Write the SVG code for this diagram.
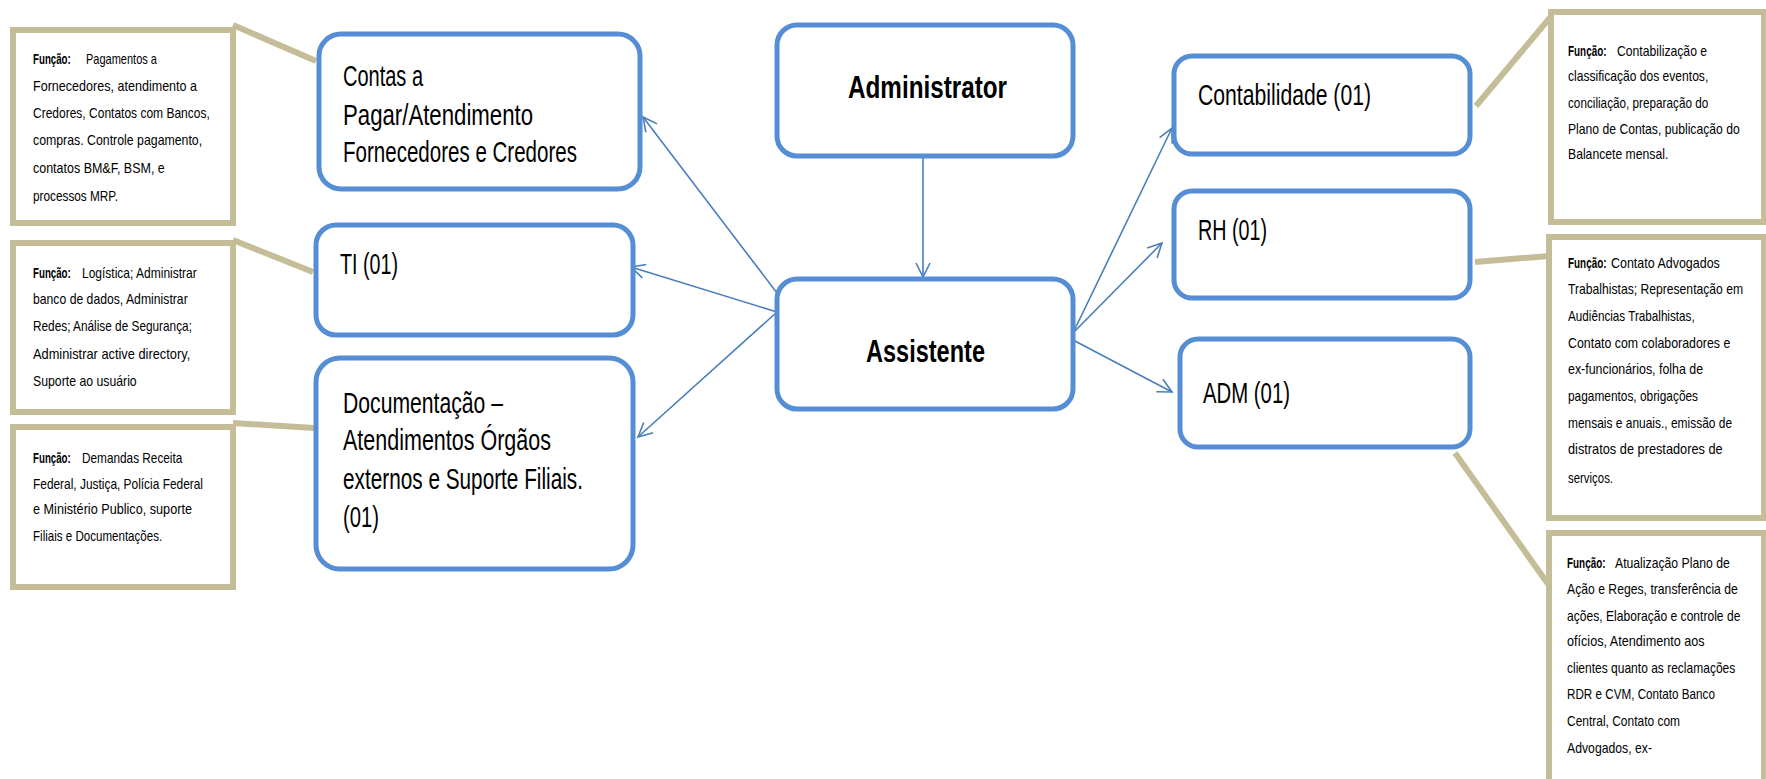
<svg xmlns="http://www.w3.org/2000/svg" width="1766" height="779" viewBox="0 0 1766 779">
<style>
.node rect{fill:#fff;stroke:#558ED5;stroke-width:5}
.note rect{fill:#fff;stroke:#C4BD97;stroke-width:6}
.lbl{font-family:'Liberation Sans',Arial,sans-serif;font-size:29px;fill:#000}
.big{font-family:'Liberation Sans',Arial,sans-serif;font-size:32px;font-weight:bold;fill:#000}
.nt{font-family:'Liberation Sans',Arial,sans-serif;font-size:14px;fill:#000}
.b{font-weight:bold}
.arr{stroke:#4A7EBB;stroke-width:1.6;fill:none;marker-end:url(#ah)}
.tan{stroke:#C4BD97;stroke-width:6;fill:none}
</style>
<defs>
<marker id="ah" markerUnits="userSpaceOnUse" markerWidth="18" markerHeight="18" viewBox="0 0 18 18" refX="15" refY="9" orient="auto">
<path d="M1,2 L15,9 L1,16" fill="none" stroke="#4A7EBB" stroke-width="1.6"/>
</marker>
</defs>
<rect width="1766" height="779" fill="#fff"/>

<g id="connectors">
<line class="tan" x1="233" y1="25" x2="316" y2="61"/>
<line class="tan" x1="233" y1="240" x2="313" y2="272"/>
<line class="tan" x1="233" y1="423" x2="314" y2="428"/>
<line class="tan" x1="1476" y1="106" x2="1553" y2="14"/>
<line class="tan" x1="1475" y1="262" x2="1549" y2="256"/>
<line class="tan" x1="1455" y1="453" x2="1548" y2="584"/>
<line class="arr" x1="923" y1="157" x2="923" y2="277"/>
<line class="arr" x1="777" y1="293" x2="643" y2="117"/>
<line class="arr" x1="777" y1="312" x2="631" y2="267"/>
<line class="arr" x1="777" y1="312" x2="638" y2="437"/>
<line class="arr" x1="1073" y1="333" x2="1172" y2="128"/>
<line class="arr" x1="1073" y1="333" x2="1162" y2="243"/>
<line class="arr" x1="1073" y1="340" x2="1172" y2="392"/>
</g>

<g id="administrator" class="node"><rect x="777" y="25" width="296" height="131" rx="20"/><text class="big" x="848" y="98" textLength="159" lengthAdjust="spacingAndGlyphs">Administrator</text></g>
<g id="assistente" class="node"><rect x="777" y="279" width="296" height="130" rx="20"/><text class="big" x="866" y="362" textLength="119" lengthAdjust="spacingAndGlyphs">Assistente</text></g>

<g id="contas" class="node"><rect x="319" y="34" width="321" height="155" rx="22"/>
<text class="lbl" x="343" y="86" textLength="80" lengthAdjust="spacingAndGlyphs">Contas a</text>
<text class="lbl" x="343" y="125" textLength="190" lengthAdjust="spacingAndGlyphs">Pagar/Atendimento</text>
<text class="lbl" x="343" y="162" textLength="234" lengthAdjust="spacingAndGlyphs">Fornecedores e Credores</text></g>
<g id="ti" class="node"><rect x="316" y="225" width="317" height="110" rx="20"/>
<text class="lbl" x="340" y="274" textLength="58" lengthAdjust="spacingAndGlyphs">TI (01)</text></g>
<g id="documentacao" class="node"><rect x="316" y="358" width="317" height="211" rx="24"/>
<text class="lbl" x="343" y="413" textLength="160" lengthAdjust="spacingAndGlyphs">Documentação –</text>
<text class="lbl" x="343" y="450" textLength="208" lengthAdjust="spacingAndGlyphs">Atendimentos Órgãos</text>
<text class="lbl" x="343" y="489" textLength="240" lengthAdjust="spacingAndGlyphs">externos e Suporte Filiais.</text>
<text class="lbl" x="343" y="527" textLength="36" lengthAdjust="spacingAndGlyphs">(01)</text></g>

<g id="contabilidade" class="node"><rect x="1174" y="56" width="296" height="98" rx="18"/>
<text class="lbl" x="1198" y="105" textLength="173" lengthAdjust="spacingAndGlyphs">Contabilidade (01)</text></g>
<g id="rh" class="node"><rect x="1174" y="191" width="296" height="107" rx="18"/>
<text class="lbl" x="1198" y="240" textLength="69" lengthAdjust="spacingAndGlyphs">RH (01)</text></g>
<g id="adm" class="node"><rect x="1180" y="339" width="290" height="108" rx="18"/>
<text class="lbl" x="1203" y="403" textLength="87" lengthAdjust="spacingAndGlyphs">ADM (01)</text></g>

<g id="note-contas" class="note"><rect x="13" y="30" width="220" height="193"/>
<text class="nt b" transform="translate(33,64) scale(0.7,1)" textLength="54" lengthAdjust="spacingAndGlyphs">Função:</text>
<text class="nt" transform="translate(86,64) scale(0.85,1)" textLength="83.5" lengthAdjust="spacingAndGlyphs">Pagamentos  a</text>
<text class="nt" transform="translate(33,91) scale(0.85,1)" textLength="193" lengthAdjust="spacingAndGlyphs">Fornecedores,  atendimento  a</text>
<text class="nt" transform="translate(33,118) scale(0.85,1)" textLength="208" lengthAdjust="spacingAndGlyphs">Credores, Contatos com Bancos,</text>
<text class="nt" transform="translate(33,145) scale(0.85,1)" textLength="199" lengthAdjust="spacingAndGlyphs">compras.  Controle pagamento,</text>
<text class="nt" transform="translate(33,173) scale(0.85,1)" textLength="155" lengthAdjust="spacingAndGlyphs">contatos BM&amp;F, BSM, e</text>
<text class="nt" transform="translate(33,201) scale(0.85,1)" textLength="100" lengthAdjust="spacingAndGlyphs">processos  MRP.</text></g>

<g id="note-ti" class="note"><rect x="13" y="243" width="220" height="169"/>
<text class="nt b" transform="translate(33,278) scale(0.7,1)" textLength="54" lengthAdjust="spacingAndGlyphs">Função:</text>
<text class="nt" transform="translate(82,278) scale(0.85,1)" textLength="135" lengthAdjust="spacingAndGlyphs">Logística; Administrar</text>
<text class="nt" transform="translate(33,304) scale(0.85,1)" textLength="182" lengthAdjust="spacingAndGlyphs">banco  de  dados,  Administrar</text>
<text class="nt" transform="translate(33,331) scale(0.85,1)" textLength="187" lengthAdjust="spacingAndGlyphs">Redes;  Análise de Segurança;</text>
<text class="nt" transform="translate(33,359) scale(0.85,1)" textLength="185" lengthAdjust="spacingAndGlyphs">Administrar  active directory,</text>
<text class="nt" transform="translate(33,386) scale(0.85,1)" textLength="122" lengthAdjust="spacingAndGlyphs">Suporte ao usuário</text></g>

<g id="note-doc" class="note"><rect x="13" y="427" width="220" height="160"/>
<text class="nt b" transform="translate(33,463) scale(0.7,1)" textLength="54" lengthAdjust="spacingAndGlyphs">Função:</text>
<text class="nt" transform="translate(82,463) scale(0.85,1)" textLength="118" lengthAdjust="spacingAndGlyphs">Demandas  Receita</text>
<text class="nt" transform="translate(33,489) scale(0.85,1)" textLength="200" lengthAdjust="spacingAndGlyphs">Federal, Justiça, Polícia Federal</text>
<text class="nt" transform="translate(33,514) scale(0.85,1)" textLength="187" lengthAdjust="spacingAndGlyphs">e Ministério Publico,  suporte</text>
<text class="nt" transform="translate(33,541) scale(0.85,1)" textLength="152" lengthAdjust="spacingAndGlyphs">Filiais e Documentações.</text></g>

<g id="note-contabilidade" class="note"><rect x="1551" y="12" width="213" height="210"/>
<text class="nt b" transform="translate(1568,56) scale(0.7,1)" textLength="55" lengthAdjust="spacingAndGlyphs">Função:</text>
<text class="nt" transform="translate(1617,56) scale(0.85,1)" textLength="106" lengthAdjust="spacingAndGlyphs">Contabilização  e</text>
<text class="nt" transform="translate(1568,81) scale(0.85,1)" textLength="165" lengthAdjust="spacingAndGlyphs">classificação  dos  eventos,</text>
<text class="nt" transform="translate(1568,108) scale(0.85,1)" textLength="165" lengthAdjust="spacingAndGlyphs">conciliação,  preparação  do</text>
<text class="nt" transform="translate(1568,134) scale(0.85,1)" textLength="202" lengthAdjust="spacingAndGlyphs">Plano de Contas, publicação  do</text>
<text class="nt" transform="translate(1568,159) scale(0.85,1)" textLength="118" lengthAdjust="spacingAndGlyphs">Balancete  mensal.</text></g>

<g id="note-rh" class="note"><rect x="1549" y="237" width="215" height="281"/>
<text class="nt b" transform="translate(1568,268) scale(0.7,1)" textLength="55" lengthAdjust="spacingAndGlyphs">Função:</text>
<text class="nt" transform="translate(1611,268) scale(0.85,1)" textLength="128" lengthAdjust="spacingAndGlyphs">Contato  Advogados</text>
<text class="nt" transform="translate(1568,294) scale(0.85,1)" textLength="206" lengthAdjust="spacingAndGlyphs">Trabalhistas; Representação  em</text>
<text class="nt" transform="translate(1568,321) scale(0.85,1)" textLength="149" lengthAdjust="spacingAndGlyphs">Audiências Trabalhistas,</text>
<text class="nt" transform="translate(1568,348) scale(0.85,1)" textLength="191" lengthAdjust="spacingAndGlyphs">Contato com colaboradores  e</text>
<text class="nt" transform="translate(1568,374) scale(0.85,1)" textLength="159" lengthAdjust="spacingAndGlyphs">ex-funcionários,  folha de</text>
<text class="nt" transform="translate(1568,401) scale(0.85,1)" textLength="153" lengthAdjust="spacingAndGlyphs">pagamentos,  obrigações</text>
<text class="nt" transform="translate(1568,428) scale(0.85,1)" textLength="193" lengthAdjust="spacingAndGlyphs">mensais  e anuais.,  emissão de</text>
<text class="nt" transform="translate(1568,454) scale(0.85,1)" textLength="182" lengthAdjust="spacingAndGlyphs">distratos  de prestadores  de</text>
<text class="nt" transform="translate(1568,483) scale(0.85,1)" textLength="53" lengthAdjust="spacingAndGlyphs">serviços.</text></g>

<g id="note-adm" class="note"><rect x="1549" y="533" width="215" height="262"/>
<text class="nt b" transform="translate(1567,568) scale(0.7,1)" textLength="55" lengthAdjust="spacingAndGlyphs">Função:</text>
<text class="nt" transform="translate(1615,568) scale(0.85,1)" textLength="135" lengthAdjust="spacingAndGlyphs">Atualização Plano de</text>
<text class="nt" transform="translate(1567,594) scale(0.85,1)" textLength="201" lengthAdjust="spacingAndGlyphs">Ação e Reges,  transferência  de</text>
<text class="nt" transform="translate(1567,621) scale(0.85,1)" textLength="204" lengthAdjust="spacingAndGlyphs">ações,  Elaboração  e controle  de</text>
<text class="nt" transform="translate(1567,646) scale(0.85,1)" textLength="162" lengthAdjust="spacingAndGlyphs">ofícios,  Atendimento  aos</text>
<text class="nt" transform="translate(1567,673) scale(0.85,1)" textLength="198" lengthAdjust="spacingAndGlyphs">clientes quanto  as reclamações</text>
<text class="nt" transform="translate(1567,699) scale(0.85,1)" textLength="174" lengthAdjust="spacingAndGlyphs">RDR e CVM, Contato  Banco</text>
<text class="nt" transform="translate(1567,726) scale(0.85,1)" textLength="133" lengthAdjust="spacingAndGlyphs">Central, Contato  com</text>
<text class="nt" transform="translate(1567,753) scale(0.85,1)" textLength="100" lengthAdjust="spacingAndGlyphs">Advogados,  ex-</text></g>
</svg>
